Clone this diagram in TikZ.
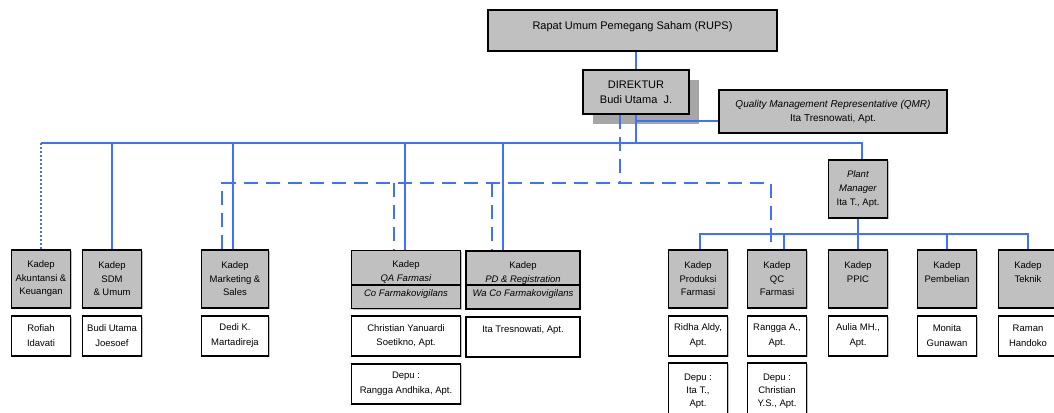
\documentclass[tikz,border=0pt]{standalone}
\usepackage{fontspec}
\setmainfont{Liberation Sans}
\usepackage{xcolor}
\usepackage{tikz}
\usetikzlibrary{positioning, shadows}
\definecolor{boxgray}{RGB}{192,192,192}
\definecolor{shadegray}{RGB}{166,166,166}
\definecolor{linkblue}{RGB}{64,112,255}
\tikzstyle{head} = [rectangle, draw=black, line width=1.8pt, fill=boxgray, align=center, inner sep=0pt]
\tikzstyle{kadep} = [head, minimum width=59pt, minimum height=58pt, font=\fontsize{9.5}{13.5}\selectfont, drop shadow={shadow xshift=1.2pt, shadow yshift=-1.2pt, opacity=1, fill=black!25}]
\tikzstyle{person} = [rectangle, draw=black, line width=1.8pt, fill=white, minimum width=59pt, minimum height=40pt, align=center, inner sep=0pt, font=\fontsize{9.5}{14.5}\selectfont, drop shadow={shadow xshift=1.2pt, shadow yshift=-1.2pt, opacity=1, fill=black!25}]
\tikzstyle{link} = [draw=linkblue, line width=2pt]
\tikzstyle{dlink} = [link, dash pattern=on 14pt off 8pt]
\tikzstyle{olink} = [link, dash pattern=on 2pt off 2pt]

\begin{document}
\begin{tikzpicture}[x=1pt, y=-1pt]
        \useasboundingbox (0,0) rectangle (1054,412);
        \node (rups) [head, minimum width=289pt, minimum height=41pt, text depth=10pt, font=\fontsize{11}{13}\selectfont] at (632.5,30.5) {Rapat Umum Pemegang Saham (RUPS)};
        \node (dir) [head, minimum width=106pt, minimum height=44pt, font=\fontsize{11}{15}\selectfont, drop shadow={shadow xshift=10pt, shadow yshift=-10pt, opacity=1, fill=shadegray}] at (636,92) {DIREKTUR\\Budi Utama\ \ J.};
        \node (qmr) [head, minimum width=228pt, minimum height=43pt, font=\fontsize{10}{14}\selectfont] at (833,111.5) {\textit{Quality Management Representative (QMR)}\\Ita Tresnowati, Apt.};
        \node (plant) [kadep, font=\fontsize{9.5}{14}\selectfont] at (858,189) {\textit{Plant}\\\textit{Manager}\\Ita T., Apt.};

        % kepala departemen
        \node (akt) [kadep] at (41,279) {Kadep\\Akuntansi \&\\Keuangan};
        \node (sdm) [kadep] at (112,279) {Kadep\\SDM\\\& Umum};
        \node (mkt) [kadep, minimum width=67pt] at (235,279) {Kadep\\Marketing \&\\Sales};
        \node (qa) [kadep, minimum width=109pt, font=\fontsize{9.5}{14.5}\selectfont] at (406,279.5) {Kadep\\\textit{QA Farmasi}\\\textit{Co Farmakovigilans}};
        \node (pd) [kadep, minimum width=114pt, font=\fontsize{9.5}{14}\selectfont] at (523,280) {Kadep\\\textit{PD \& Registration}\\\textit{Wa Co Farmakovigilans}};
        \node (prod) [kadep] at (698,279) {Kadep\\Produksi\\Farmasi};
        \node (qc) [kadep] at (777,279) {Kadep\\QC\\Farmasi};
        \node (ppic) [kadep] at (858,279) {Kadep\\PPIC\\\mbox{}};
        \node (beli) [kadep] at (947,279) {Kadep\\Pembelian\\\mbox{}};
        \node (teknik) [kadep] at (1028,279) {Kadep\\Teknik\\\mbox{}};
        \draw [line width=1.8pt] ([yshift=-35pt]qa.north west) -- ([yshift=-35pt]qa.north east);
        \draw [line width=1.8pt] ([yshift=-35pt]pd.north west) -- ([yshift=-35pt]pd.north east);

        % nama pejabat
        \node (akt-n) [person, below=5.8pt of akt] {Rofiah\\Idavati};
        \node (sdm-n) [person, below=5.8pt of sdm] {Budi Utama\\Joesoef};
        \node (mkt-n) [person, minimum width=67pt, below=5.8pt of mkt] {Dedi K.\\Martadireja};
        \node (qa-n) [person, minimum width=109pt, below=5.8pt of qa] {Christian Yanuardi\\Soetikno, Apt.};
        \node (qa-d) [person, minimum width=109pt, below=5.8pt of qa-n] {Depu :\\Rangga Andhika, Apt.};
        \node (pd-n) [person, minimum width=114pt, below=5.8pt of pd] {Ita Tresnowati, Apt.\\\mbox{}};
        \node (prod-n) [person, below=5.8pt of prod] {Ridha Aldy,\\Apt.};
        \node (prod-d) [person, minimum height=56pt, font=\fontsize{9.5}{13}\selectfont, below=5.8pt of prod-n] {Depu :\\Ita T.,\\Apt.};
        \node (qc-n) [person, below=5.8pt of qc] {Rangga A.,\\Apt.};
        \node (qc-d) [person, minimum height=56pt, font=\fontsize{9.5}{13}\selectfont, below=5.8pt of qc-n] {Depu :\\Christian\\Y.S., Apt.};
        \node (ppic-n) [person, below=5.8pt of ppic] {Aulia MH.,\\Apt.};
        \node (beli-n) [person, below=5.8pt of beli] {Monita\\Gunawan};
        \node (teknik-n) [person, below=5.8pt of teknik] {Raman\\Handoko};

        % garis
        \coordinate (bus) at (0,143);
        \coordinate (dbus) at (0,183);
        \coordinate (pbus) at (0,234);
        \coordinate (qmrin) at ([yshift=-9.5pt]qmr.west);
        \coordinate (pmS) at ([xshift=4pt]plant.north);
        \coordinate (mktS) at ([xshift=-2pt]mkt.north);
        \coordinate (qaS) at ([xshift=-1pt]qa.north);
        \coordinate (pdS) at ([xshift=-20pt]pd.north);
        \coordinate (dirD) at ([xshift=-16pt]dir.south);
        \coordinate (mktD) at ([xshift=-13pt]mkt.north);
        \coordinate (qaD) at ([xshift=-12pt]qa.north);
        \coordinate (pdD) at ([xshift=-31pt]pd.north);
        \coordinate (qcD) at ([xshift=-6pt]qc.north);
        \coordinate (qcS) at ([xshift=7pt]qc.north);
        \coordinate (prodS) at ([xshift=2pt]prod.north);

        \draw [link] (dir.north) -- (dir.north |- rups.south);
        \draw [link] (dir.south) -- (dir.south |- bus);
        \draw [link] (qmrin) -- (qmrin -| dir.south);
        \draw [link] (akt.north |- bus) -- (pmS |- bus) -- (pmS);
        \draw [olink] (akt.north |- bus) -- (akt.north);
        \draw [link] (sdm.north |- bus) -- (sdm.north);
        \draw [link] (mktS |- bus) -- (mktS);
        \draw [link] (qaS |- bus) -- (qaS);
        \draw [link] (pdS |- bus) -- (pdS);

        \draw [dlink] (dirD) -- (dirD |- dbus);
        \draw [dlink] (mktD) -- (mktD |- dbus) -- (qcD |- dbus) -- (qcD);
        \draw [dlink] (qaD |- dbus) -- (qaD);
        \draw [dlink] (pdD |- dbus) -- (pdD);

        \draw [link] (plant.south) -- (ppic.north);
        \draw [link] (prodS) -- (prodS |- pbus) -- (teknik.north |- pbus) -- (teknik.north);
        \draw [link] (qcS |- pbus) -- (qcS);
        \draw [link] (beli.north |- pbus) -- (beli.north);
\end{tikzpicture}
\end{document}
